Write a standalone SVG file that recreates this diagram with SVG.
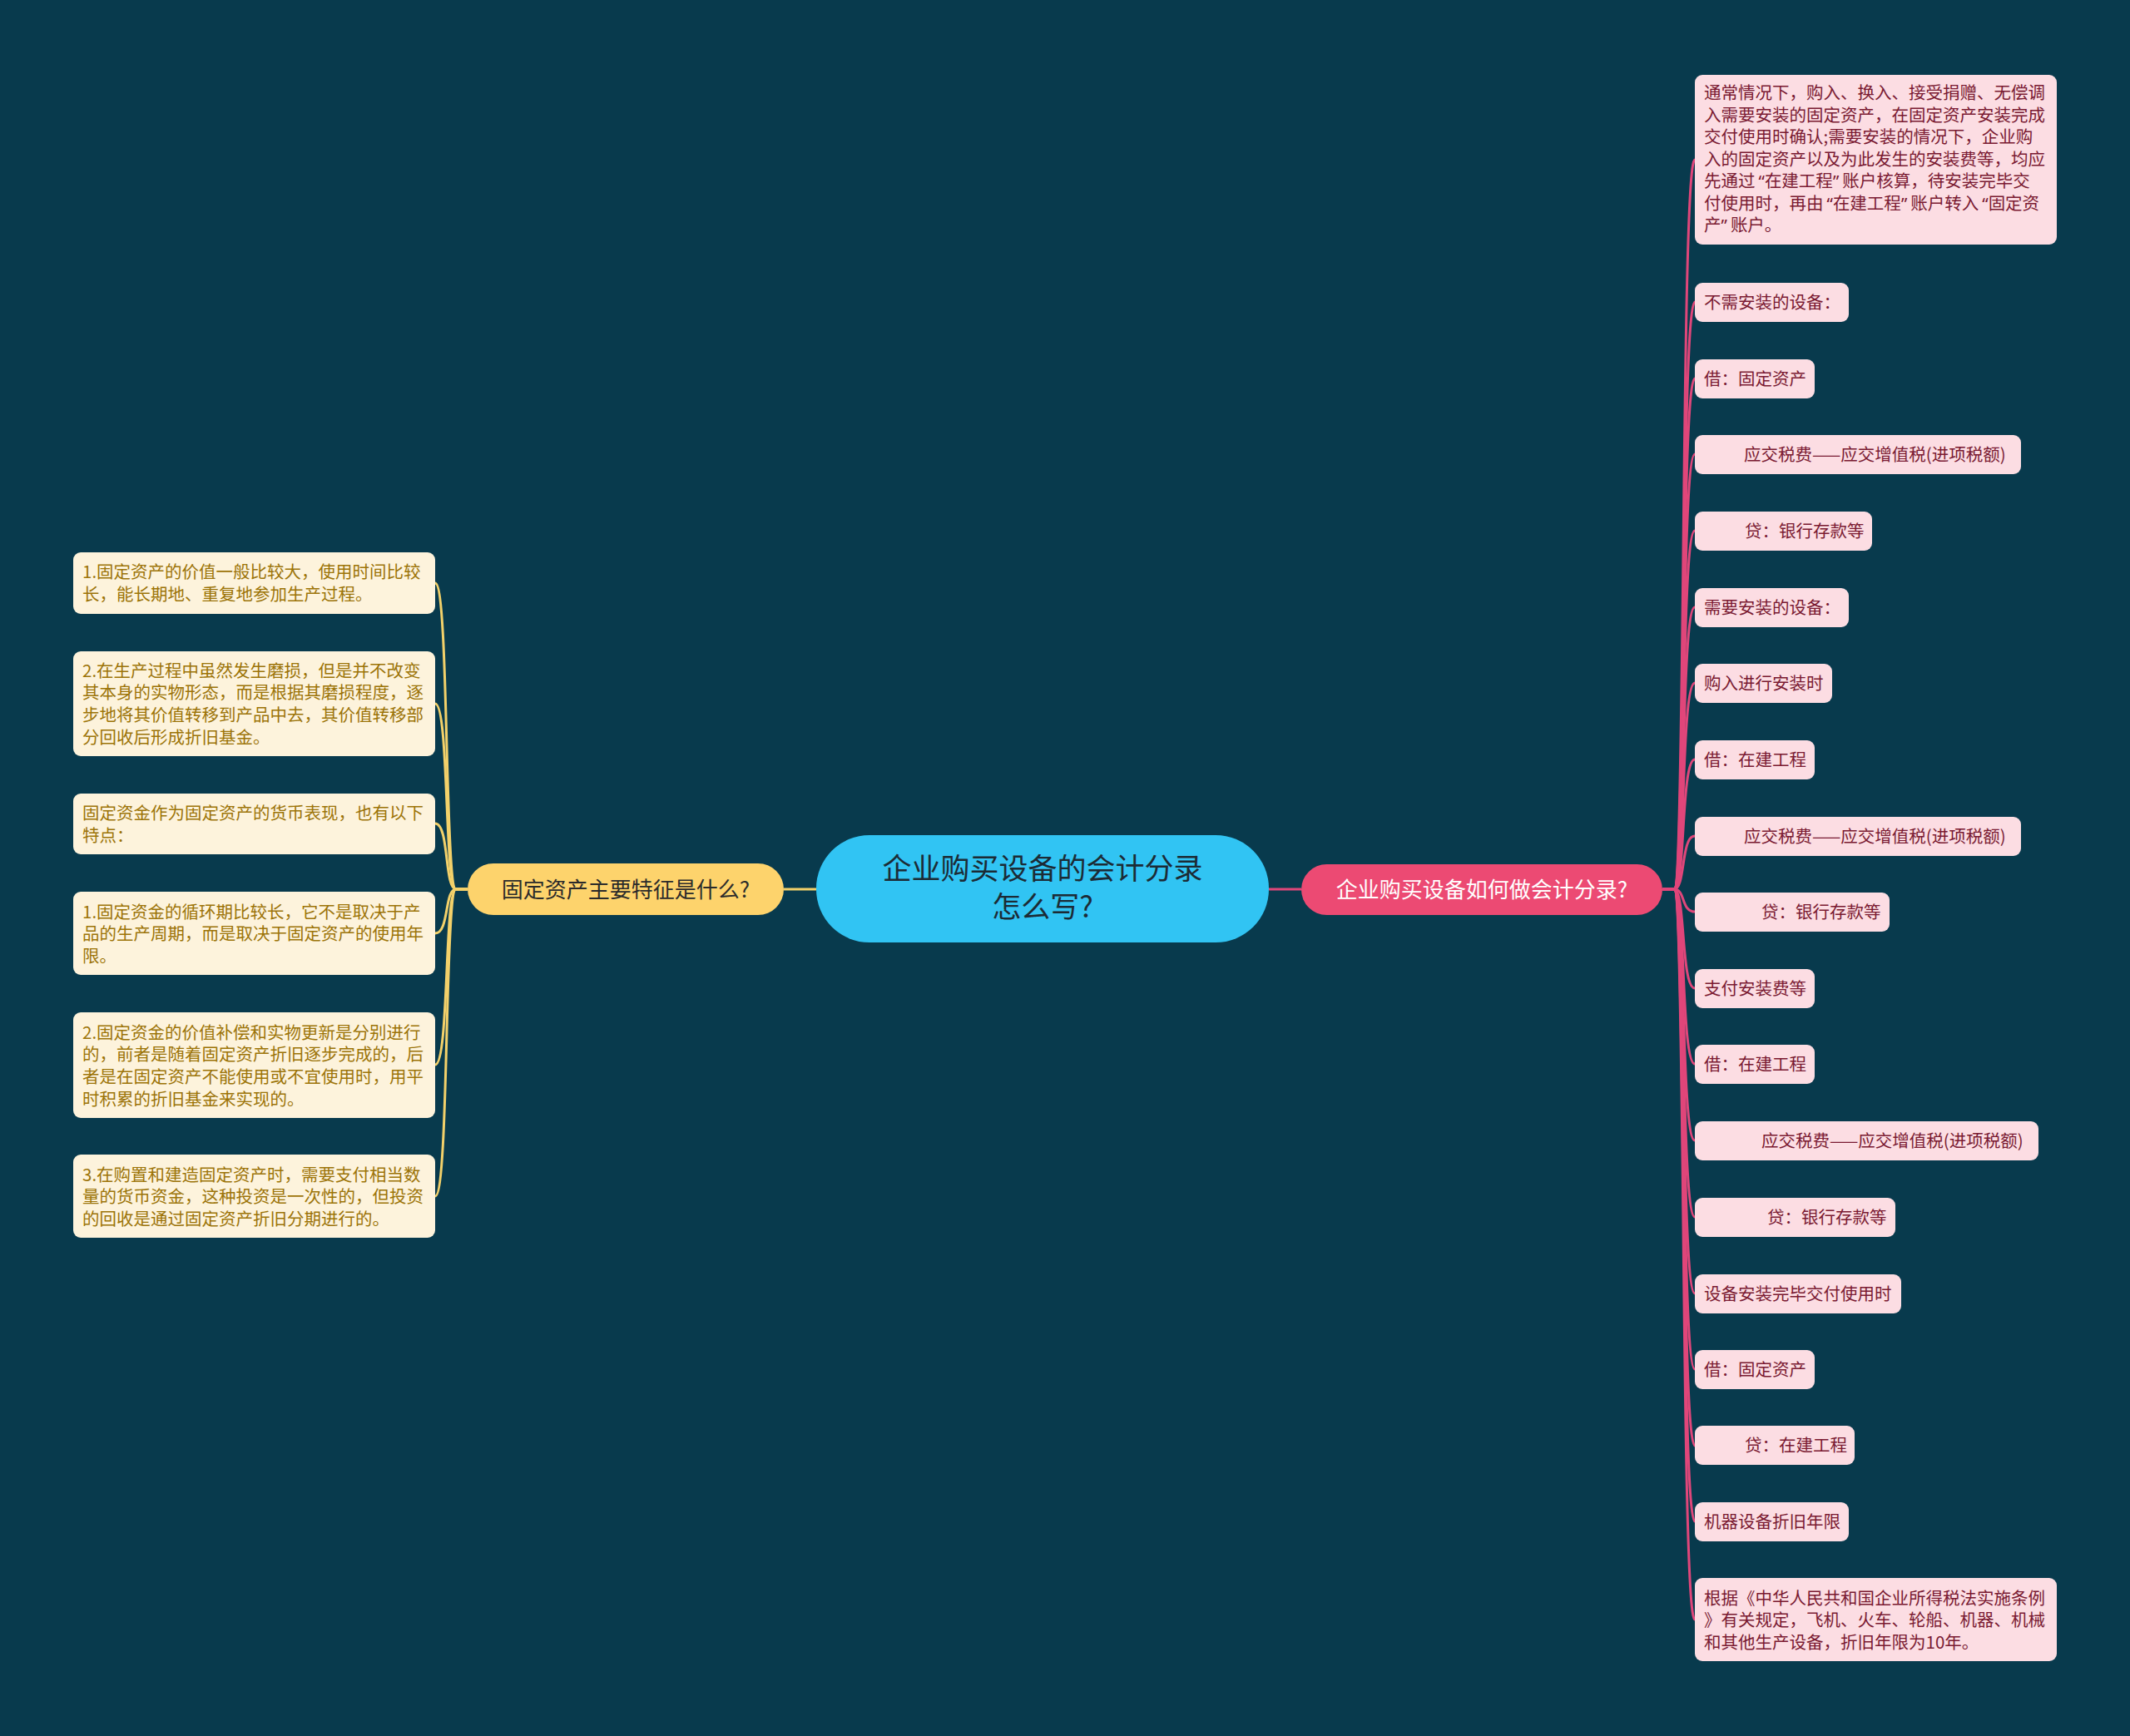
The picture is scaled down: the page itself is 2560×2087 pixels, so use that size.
<svg xmlns="http://www.w3.org/2000/svg" width="2560" height="2087" viewBox="0 0 2560 2087">
<style>
text{font-family:"Noto Sans CJK SC","Noto Sans",sans-serif;}
.q{font-family:"Noto Sans",sans-serif;letter-spacing:4px;}
.ql{font-family:"Noto Sans",sans-serif;}
.rbox{fill:#fcdde3;}
.rt{fill:#7a1a32;font-size:20.5px;}
.lbox{fill:#fdf3dc;}
.lt{fill:#9c7408;font-size:20.5px;}
.rc{fill:none;stroke:#e0467a;stroke-width:3;}
.lc{fill:none;stroke:#f3d16a;stroke-width:3;}
</style>
<rect width="2560" height="2087" fill="#083a4d"/>
<g id="connectors">
<path class="lc" d="M942 1069 L981 1069"/>
<path class="rc" d="M1525 1069 L1564 1069"/>
<g id="left-links">
<path class="lc" d="M562 1069 L548 1069 C534 1069 540 701 523 701"/>
<path class="lc" d="M562 1069 L548 1069 C534 1069 540 846 523 846"/>
<path class="lc" d="M562 1069 L548 1069 C534 1069 540 990 523 990"/>
<path class="lc" d="M562 1069 L548 1069 C534 1069 540 1122 523 1122"/>
<path class="lc" d="M562 1069 L548 1069 C534 1069 540 1280 523 1280"/>
<path class="lc" d="M562 1069 L548 1069 C534 1069 540 1438 523 1438"/>
</g>
<g id="right-links">
<path class="rc" d="M1998 1069 L2012 1069 C2026 1069 2020 192 2037 192"/>
<path class="rc" d="M1998 1069 L2012 1069 C2026 1069 2020 363 2037 363"/>
<path class="rc" d="M1998 1069 L2012 1069 C2026 1069 2020 455 2037 455"/>
<path class="rc" d="M1998 1069 L2012 1069 C2026 1069 2020 546 2037 546"/>
<path class="rc" d="M1998 1069 L2012 1069 C2026 1069 2020 638 2037 638"/>
<path class="rc" d="M1998 1069 L2012 1069 C2026 1069 2020 730 2037 730"/>
<path class="rc" d="M1998 1069 L2012 1069 C2026 1069 2020 821 2037 821"/>
<path class="rc" d="M1998 1069 L2012 1069 C2026 1069 2020 913 2037 913"/>
<path class="rc" d="M1998 1069 L2012 1069 C2026 1069 2020 1005 2037 1005"/>
<path class="rc" d="M1998 1069 L2012 1069 C2026 1069 2020 1096 2037 1096"/>
<path class="rc" d="M1998 1069 L2012 1069 C2026 1069 2020 1188 2037 1188"/>
<path class="rc" d="M1998 1069 L2012 1069 C2026 1069 2020 1279 2037 1279"/>
<path class="rc" d="M1998 1069 L2012 1069 C2026 1069 2020 1371 2037 1371"/>
<path class="rc" d="M1998 1069 L2012 1069 C2026 1069 2020 1463 2037 1463"/>
<path class="rc" d="M1998 1069 L2012 1069 C2026 1069 2020 1555 2037 1555"/>
<path class="rc" d="M1998 1069 L2012 1069 C2026 1069 2020 1646 2037 1646"/>
<path class="rc" d="M1998 1069 L2012 1069 C2026 1069 2020 1738 2037 1738"/>
<path class="rc" d="M1998 1069 L2012 1069 C2026 1069 2020 1829 2037 1829"/>
<path class="rc" d="M1998 1069 L2012 1069 C2026 1069 2020 1947 2037 1947"/>
</g>
</g>
<g id="root">
<rect x="981" y="1004" width="544" height="129" rx="64" fill="#31c4f3"/>
<text x="1253" y="1057" text-anchor="middle" font-size="35" fill="#1c2b35">企业购买设备的会计分录</text>
<text x="1253" y="1103" text-anchor="middle" font-size="35" fill="#1c2b35">怎么写?</text>
</g>
<g id="branch-left">
<rect x="562" y="1038" width="380" height="62" rx="31" fill="#fdd36c"/>
<text x="752" y="1079" text-anchor="middle" font-size="26" fill="#2b2b2b">固定资产主要特征是什么?</text>
</g>
<g id="branch-right">
<rect x="1564" y="1039" width="434" height="61" rx="30.5" fill="#ec4a73"/>
<text x="1781" y="1079" text-anchor="middle" font-size="26" fill="#ffffff">企业购买设备如何做会计分录?</text>
</g>
<g id="l1"><rect class="lbox" x="88" y="664" width="435" height="74" rx="9"/>
<text class="lt" x="99" y="695">1.固定资产的价值一般比较大，使用时间比较</text>
<text class="lt" x="99" y="722">长，能长期地、重复地参加生产过程。</text></g>
<g id="l2"><rect class="lbox" x="88" y="783" width="435" height="126" rx="9"/>
<text class="lt" x="99" y="814">2.在生产过程中虽然发生磨损，但是并不改变</text>
<text class="lt" x="99" y="840">其本身的实物形态，而是根据其磨损程度，逐</text>
<text class="lt" x="99" y="867">步地将其价值转移到产品中去，其价值转移部</text>
<text class="lt" x="99" y="894">分回收后形成折旧基金。</text></g>
<g id="l3"><rect class="lbox" x="88" y="954" width="435" height="73" rx="9"/>
<text class="lt" x="99" y="985">固定资金作为固定资产的货币表现，也有以下</text>
<text class="lt" x="99" y="1012">特点：</text></g>
<g id="l4"><rect class="lbox" x="88" y="1072" width="435" height="100" rx="9"/>
<text class="lt" x="99" y="1104">1.固定资金的循环期比较长，它不是取决于产</text>
<text class="lt" x="99" y="1130">品的生产周期，而是取决于固定资产的使用年</text>
<text class="lt" x="99" y="1157">限。</text></g>
<g id="l5"><rect class="lbox" x="88" y="1217" width="435" height="127" rx="9"/>
<text class="lt" x="99" y="1249">2.固定资金的价值补偿和实物更新是分别进行</text>
<text class="lt" x="99" y="1275">的，前者是随着固定资产折旧逐步完成的，后</text>
<text class="lt" x="99" y="1302">者是在固定资产不能使用或不宜使用时，用平</text>
<text class="lt" x="99" y="1329">时积累的折旧基金来实现的。</text></g>
<g id="l6"><rect class="lbox" x="88" y="1388" width="435" height="100" rx="9"/>
<text class="lt" x="99" y="1420">3.在购置和建造固定资产时，需要支付相当数</text>
<text class="lt" x="99" y="1446">量的货币资金，这种投资是一次性的，但投资</text>
<text class="lt" x="99" y="1473">的回收是通过固定资产折旧分期进行的。</text></g>
<g id="r1"><rect class="rbox" x="2037" y="90" width="435" height="204" rx="9"/>
<text class="rt" x="2048" y="119">通常情况下，购入、换入、接受捐赠、无偿调</text>
<text class="rt" x="2048" y="145.5">入需要安装的固定资产，在固定资产安装完成</text>
<text class="rt" x="2048" y="172">交付使用时确认;需要安装的情况下，企业购</text>
<text class="rt" x="2048" y="198.5">入的固定资产以及为此发生的安装费等，均应</text>
<text class="rt" x="2048" y="225">先通过<tspan class="ql" dx="4">“</tspan>在建工程<tspan class="q">”</tspan>账户核算，待安装完毕交</text>
<text class="rt" x="2048" y="251.5">付使用时，再由<tspan class="ql" dx="4">“</tspan>在建工程<tspan class="q">”</tspan>账户转入<tspan class="ql" dx="4">“</tspan>固定资</text>
<text class="rt" x="2048" y="278">产<tspan class="q">”</tspan>账户。</text></g>
<g id="r2"><rect class="rbox" x="2037" y="340" width="185" height="47" rx="9"/><text class="rt" x="2048" y="371">不需安装的设备：</text></g>
<g id="r3"><rect class="rbox" x="2037" y="432" width="144" height="47" rx="9"/><text class="rt" x="2048" y="463">借：固定资产</text></g>
<g id="r4"><rect class="rbox" x="2037" y="523" width="392" height="47" rx="9"/><text class="rt" x="2096" y="554">应交税费——应交增值税(进项税额)</text></g>
<g id="r5"><rect class="rbox" x="2037" y="615" width="213" height="47" rx="9"/><text class="rt" x="2097" y="646">贷：银行存款等</text></g>
<g id="r6"><rect class="rbox" x="2037" y="707" width="185" height="47" rx="9"/><text class="rt" x="2048" y="738">需要安装的设备：</text></g>
<g id="r7"><rect class="rbox" x="2037" y="798" width="165" height="47" rx="9"/><text class="rt" x="2048" y="829">购入进行安装时</text></g>
<g id="r8"><rect class="rbox" x="2037" y="890" width="144" height="47" rx="9"/><text class="rt" x="2048" y="921">借：在建工程</text></g>
<g id="r9"><rect class="rbox" x="2037" y="982" width="392" height="47" rx="9"/><text class="rt" x="2096" y="1013">应交税费——应交增值税(进项税额)</text></g>
<g id="r10"><rect class="rbox" x="2037" y="1073" width="234" height="47" rx="9"/><text class="rt" x="2117" y="1104">贷：银行存款等</text></g>
<g id="r11"><rect class="rbox" x="2037" y="1165" width="144" height="47" rx="9"/><text class="rt" x="2048" y="1196">支付安装费等</text></g>
<g id="r12"><rect class="rbox" x="2037" y="1256" width="144" height="47" rx="9"/><text class="rt" x="2048" y="1287">借：在建工程</text></g>
<g id="r13"><rect class="rbox" x="2037" y="1348" width="413" height="47" rx="9"/><text class="rt" x="2117" y="1379">应交税费——应交增值税(进项税额)</text></g>
<g id="r14"><rect class="rbox" x="2037" y="1440" width="241" height="47" rx="9"/><text class="rt" x="2124" y="1471">贷：银行存款等</text></g>
<g id="r15"><rect class="rbox" x="2037" y="1532" width="248" height="47" rx="9"/><text class="rt" x="2048" y="1563">设备安装完毕交付使用时</text></g>
<g id="r16"><rect class="rbox" x="2037" y="1623" width="144" height="47" rx="9"/><text class="rt" x="2048" y="1654">借：固定资产</text></g>
<g id="r17"><rect class="rbox" x="2037" y="1714" width="192" height="47" rx="9"/><text class="rt" x="2097" y="1745">贷：在建工程</text></g>
<g id="r18"><rect class="rbox" x="2037" y="1806" width="185" height="47" rx="9"/><text class="rt" x="2048" y="1837">机器设备折旧年限</text></g>
<g id="r19"><rect class="rbox" x="2037" y="1897" width="435" height="100" rx="9"/>
<text class="rt" x="2048" y="1929">根据《中华人民共和国企业所得税法实施条例</text>
<text class="rt" x="2048" y="1955">》有关规定，飞机、火车、轮船、机器、机械</text>
<text class="rt" x="2048" y="1982">和其他生产设备，折旧年限为10年。</text></g>
</svg>
